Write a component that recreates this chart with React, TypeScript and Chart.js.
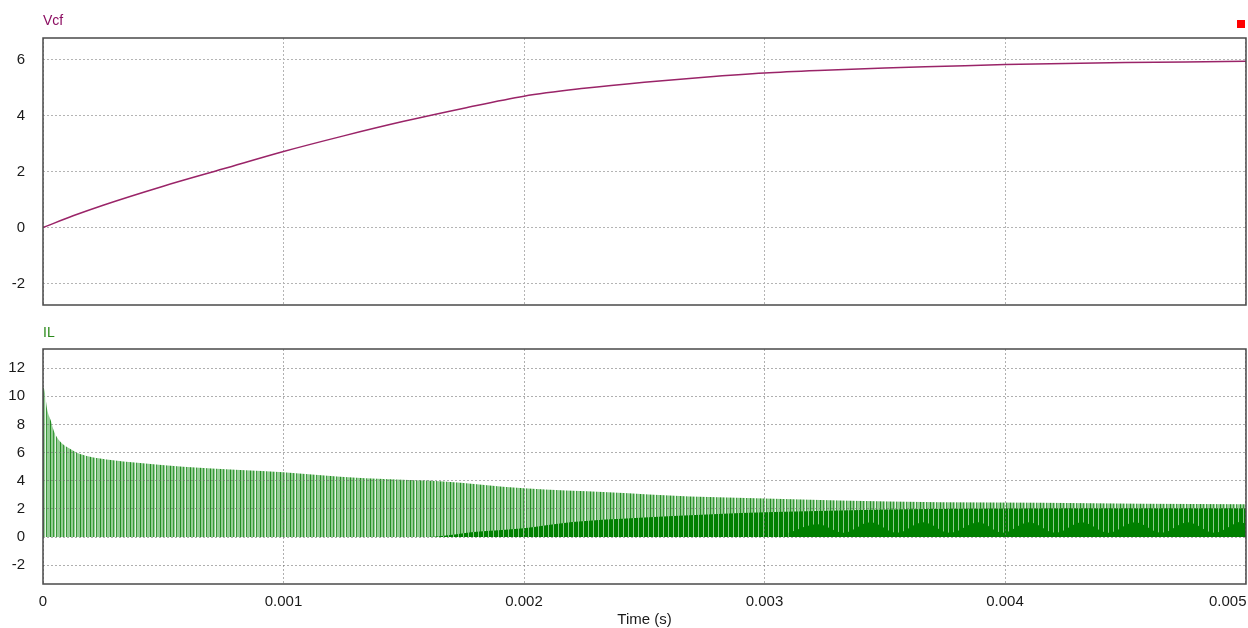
import React, { useEffect, useRef } from 'react';
import { Chart, registerables } from 'chart.js';

Chart.register(...registerables);

// ---------- data ----------
const X_MIN = 0;
const X_MAX = 0.005002;
const xTickValues = [0, 0.001, 0.002, 0.003, 0.004, 0.005];
const xTickLabels = ['0', '0.001', '0.002', '0.003', '0.004', '0.005'];

const vcfTickValues = [-2, 0, 2, 4, 6];
const ilTickValues = [-2, 0, 2, 4, 6, 8, 10, 12];

const vcfTime = [0, 0.000125, 0.00025, 0.0005, 0.00075, 0.001, 0.00125, 0.0015, 0.00175, 0.002, 0.00225, 0.0025, 0.00275, 0.003, 0.00325, 0.0035, 0.00375, 0.004, 0.00425, 0.0045, 0.00475, 0.005002];
const vcfValue = [0, 0.42, 0.8, 1.48, 2.1, 2.72, 3.28, 3.8, 4.27, 4.7, 4.98, 5.2, 5.38, 5.53, 5.63, 5.71, 5.77, 5.83, 5.87, 5.9, 5.92, 5.95];

// IL peak envelope (tops of the switching spikes)
const ilPeakTime = [0, 0.000005, 0.000018, 0.000032, 0.000046, 0.00007, 0.000112, 0.000154, 0.000265, 0.000404, 0.000583, 0.00082, 0.001, 0.001236, 0.001444, 0.00165, 0.002, 0.00235, 0.00269, 0.003, 0.00331, 0.00373, 0.00415, 0.00457, 0.005002];
const ilPeakValue = [10.6, 10.5, 9.0, 8.3, 7.5, 6.8, 6.27, 5.9, 5.5, 5.26, 5.0, 4.76, 4.6, 4.29, 4.1, 3.96, 3.46, 3.18, 2.88, 2.74, 2.6, 2.47, 2.43, 2.36, 2.33];

// IL dense (continuous-conduction) band top
const ilDenseTime = [0.0016, 0.00165, 0.00179, 0.002, 0.0022, 0.00248, 0.00276, 0.00304, 0.00331, 0.0036, 0.004, 0.0045, 0.005002];
const ilDenseValue = [0, 0.05, 0.35, 0.62, 1.06, 1.37, 1.6, 1.77, 1.89, 1.97, 2.02, 2.04, 2.04];

// IL valley ripple (solid lower band)
const ilValleyTime = [0.0031, 0.00322, 0.00333, 0.00344, 0.00355, 0.00366, 0.00377, 0.00389, 0.00399, 0.0041, 0.00421, 0.00432, 0.00443, 0.00454, 0.00465, 0.00476, 0.00487, 0.00497, 0.005002];
const ilValleyValue = [0.3, 0.9, 0.3, 1.05, 0.3, 1.05, 0.3, 1.05, 0.3, 1.05, 0.3, 1.05, 0.3, 1.05, 0.3, 1.05, 0.3, 1.05, 0.95];

// ---------- styles ----------
const FONT = '"Liberation Sans", Arial, sans-serif';
const GRID_COLOR = '#b4b4b4';
const FRAME_COLOR = '#4a4a4a';
const VCF_COLOR = '#9a2468';
const VCF_TITLE = '#8c0f62';
const IL_TITLE = '#2a8a1a';

function makePattern(cols: string[]): CanvasPattern | string {
  const c = document.createElement('canvas');
  c.width = cols.length;
  c.height = 1;
  const g = c.getContext('2d');
  if (!g) return cols[0];
  cols.forEach((col, i) => {
    g.fillStyle = col;
    g.fillRect(i, 0, 1, 1);
  });
  const p = g.createPattern(c, 'repeat');
  return p || cols[0];
}

const pts = (xs: number[], ys: number[]) => xs.map((x, i) => ({ x, y: ys[i] }));

function yScale(min: number, max: number, ticks: number[], gridColor: string, z: number) {
  return {
    type: 'linear',
    min,
    max,
    afterBuildTicks: (s: any) => {
      s.ticks = ticks.map((v) => ({ value: v }));
    },
    afterFit: (s: any) => {
      s.width = 43;
      s.paddingTop = 0;
      s.paddingBottom = 0;
    },
    grid: { color: gridColor, lineWidth: 1, drawTicks: false, z },
    border: { display: false, dash: [2, 2] },
    ticks: {
      padding: 18,
      color: '#1a1a1a',
      font: { family: FONT, size: 15 },
      callback: (v: any) => String(v),
    },
  };
}

function xScale(gridColor: string, z: number) {
  return {
    type: 'linear',
    min: X_MIN,
    max: X_MAX,
    afterBuildTicks: (s: any) => {
      s.ticks = xTickValues.map((v) => ({ value: v }));
    },
    afterFit: (s: any) => {
      s.height = 0;
      s.paddingLeft = 0;
      s.paddingRight = 0;
    },
    grid: { color: gridColor, lineWidth: 1, drawTicks: false, z },
    border: { display: false, dash: [2, 2] },
    ticks: { display: false },
  };
}

function framePlugin(title: string, titleColor: string, titleY: number, bottomAxis: boolean, marker: boolean) {
  return {
    id: 'frame_' + title,
    afterDraw(chart: any) {
      const { ctx, chartArea: a } = chart;
      ctx.save();
      ctx.strokeStyle = FRAME_COLOR;
      ctx.lineWidth = 1.5;
      ctx.strokeRect(a.left, a.top, a.right - a.left, a.bottom - a.top);

      ctx.fillStyle = titleColor;
      ctx.font = `14px ${FONT}`;
      ctx.textAlign = 'left';
      ctx.textBaseline = 'alphabetic';
      ctx.fillText(title, a.left, titleY);

      if (marker) {
        ctx.fillStyle = '#ff0000';
        ctx.fillRect(1237, 20, 8, 8);
      }

      if (bottomAxis) {
        const xs = chart.scales.x;
        ctx.fillStyle = '#1a1a1a';
        ctx.font = `15px ${FONT}`;
        ctx.textBaseline = 'middle';
        xTickValues.forEach((v, i) => {
          const px = xs.getPixelForValue(v);
          const last = i === xTickValues.length - 1;
          ctx.textAlign = last ? 'right' : 'center';
          ctx.fillText(xTickLabels[i], last ? px + 1 : px, a.bottom + 18);
        });
        ctx.textAlign = 'center';
        ctx.fillText('Time (s)', (a.left + a.right) / 2, a.bottom + 36);
      }
      ctx.restore();
    },
  };
}

export default function App() {
  const topRef = useRef<HTMLCanvasElement>(null);
  const botRef = useRef<HTMLCanvasElement>(null);

  useEffect(() => {
    if (!topRef.current || !botRef.current) return;

    const top = new Chart(topRef.current, {
      type: 'line',
      data: {
        datasets: [
          {
            label: 'Vcf',
            data: pts(vcfTime, vcfValue),
            borderColor: VCF_COLOR,
            borderWidth: 1.5,
            pointRadius: 0,
            cubicInterpolationMode: 'monotone',
            fill: false,
          },
        ],
      },
      options: {
        animation: false,
        responsive: false,
        events: [],
        layout: { padding: { top: 38, right: 2, bottom: 15, left: 0 } },
        plugins: { legend: { display: false }, tooltip: { enabled: false } },
        scales: { x: xScale(GRID_COLOR, 0) as any, y: yScale(-2.77, 6.78, vcfTickValues, GRID_COLOR, 0) as any },
      },
      plugins: [framePlugin('Vcf', VCF_TITLE, 25, false, true)],
    });

    const G = '#3a9a3a';
    const Gd = '#238e23';
    const L = '#94cc94';
    const W = '#e6f3e6';
    const D = '#008000';
    const Lg = '#8cc88c';
    const peakPattern = makePattern([Gd, L, L, G, L, W, G, L, L, L]);
    const densePattern = makePattern([D, D, D, Lg, D, D, D, D, Lg, D]);
    const gridOver = 'rgba(110,110,110,0.55)';

    const bot = new Chart(botRef.current, {
      type: 'line',
      data: {
        datasets: [
          {
            label: 'IL valley',
            data: pts(ilValleyTime, ilValleyValue),
            borderColor: 'rgba(0,0,0,0)',
            borderWidth: 0,
            backgroundColor: D,
            pointRadius: 0,
            tension: 0.35,
            fill: 'origin',
          },
          {
            label: 'IL dense',
            data: pts(ilDenseTime, ilDenseValue),
            borderColor: 'rgba(0,0,0,0)',
            borderWidth: 0,
            backgroundColor: densePattern as any,
            pointRadius: 0,
            cubicInterpolationMode: 'monotone',
            fill: 'origin',
          },
          {
            label: 'IL',
            data: pts(ilPeakTime, ilPeakValue),
            borderColor: 'rgba(0,0,0,0)',
            borderWidth: 0,
            backgroundColor: peakPattern as any,
            pointRadius: 0,
            cubicInterpolationMode: 'monotone',
            fill: 'origin',
          },
        ],
      },
      options: {
        animation: false,
        responsive: false,
        events: [],
        layout: { padding: { top: 29, right: 2, bottom: 44, left: 0 } },
        plugins: { legend: { display: false }, tooltip: { enabled: false } },
        scales: { x: xScale(gridOver, 1) as any, y: yScale(-3.34, 13.36, ilTickValues, gridOver, 1) as any },
      },
      plugins: [framePlugin('IL', IL_TITLE, 16.5, true, false)],
    });

    return () => {
      top.destroy();
      bot.destroy();
    };
  }, []);

  return (
    <div style={{ position: 'fixed', left: 0, top: 0, width: 1248, height: 628, background: '#fff' }}>
      <canvas ref={topRef} width={1248} height={320} style={{ position: 'absolute', left: 0, top: 0, width: 1248, height: 320 }} />
      <canvas ref={botRef} width={1248} height={308} style={{ position: 'absolute', left: 0, top: 320, width: 1248, height: 308 }} />
    </div>
  );
}
